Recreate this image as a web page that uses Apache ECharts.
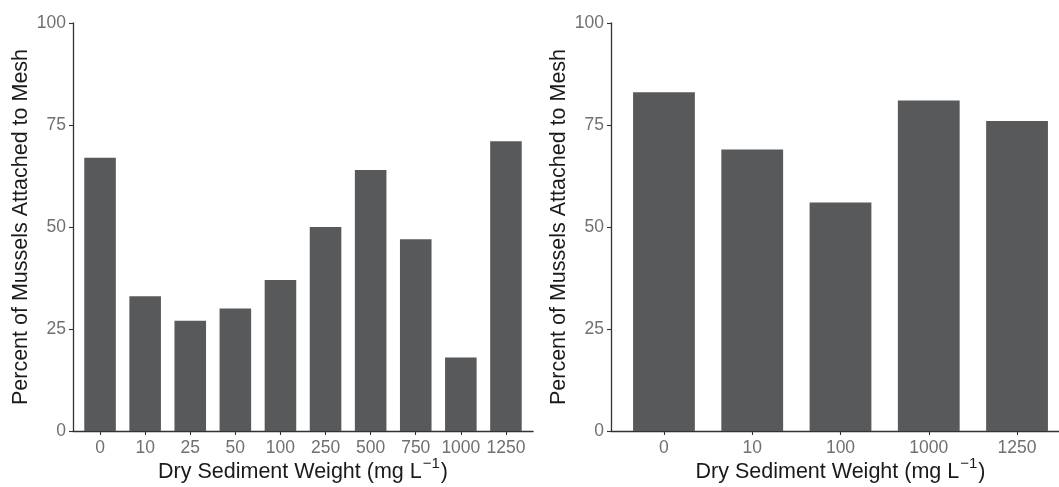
<!DOCTYPE html>
<html>
<head>
<meta charset="utf-8">
<title>Mussel attachment vs sediment weight</title>
<script src="https://cdn.jsdelivr.net/npm/echarts@6/dist/echarts.min.js"></script>
<style>
  html, body { margin: 0; padding: 0; background: #fff; }
  #chart { width: 1059px; height: 487px; }
</style>
</head>
<body>
<div id="chart"></div>
<script>
// Left panel: sediment treatments (mg/L) and percent of mussels attached
const leftCategories = ['0', '10', '25', '50', '100', '250', '500', '750', '1000', '1250'];
const leftValues = [67, 33, 27, 30, 37, 50, 64, 47, 18, 71];

// Right panel
const rightCategories = ['0', '10', '100', '1000', '1250'];
const rightValues = [83, 69, 56, 81, 76];

const yTicks = [0, 25, 50, 75, 100];

const FONT = '"Liberation Sans", Arial, Helvetica, sans-serif';
const BAR = '#58595b';
const AXIS = '#333333';
const TICKTXT = '#707070';
const TITLE = '#1a1a1a';

const idx = arr => arr.map((_, i) => i);

function xAxisFor(gridIndex, cats) {
  return {
    type: 'value',
    gridIndex,
    min: -0.6,
    max: cats.length - 0.4,
    name: '{t|Dry Sediment Weight (mg L}{s|\u22121}{t|)}',
    nameLocation: 'middle',
    nameGap: 27,
    nameMoveOverlap: false,
    nameTextStyle: {
      rich: {
        t: { fontFamily: FONT, fontSize: 21.5, color: TITLE, verticalAlign: 'bottom', lineHeight: 25 },
        s: { fontFamily: FONT, fontSize: 15, color: TITLE, verticalAlign: 'bottom', padding: [0, 1, 12, 1], lineHeight: 15 }
      }
    },
    axisLine: { show: true, onZero: false, lineStyle: { color: AXIS, width: 1.3 } },
    axisTick: { show: true, length: 4, lineStyle: { color: AXIS, width: 1.1 }, customValues: idx(cats) },
    axisLabel: {
      show: true,
      margin: 8,
      fontFamily: FONT,
      fontSize: 17.5,
      color: TICKTXT,
      customValues: idx(cats),
      formatter: v => cats[Math.round(v)]
    },
    splitLine: { show: false }
  };
}

function yAxisFor(gridIndex) {
  return {
    type: 'value',
    gridIndex,
    min: 0,
    max: 100,
    interval: 25,
    name: 'Percent of Mussels Attached to Mesh',
    nameLocation: 'middle',
    nameGap: 41,
    nameMoveOverlap: false,
    nameTextStyle: { fontFamily: FONT, fontSize: 21.5, color: TITLE },
    axisLine: { show: true, onZero: false, lineStyle: { color: AXIS, width: 1.3 } },
    axisTick: { show: true, length: 4, lineStyle: { color: AXIS, width: 1.1 } },
    axisLabel: {
      margin: 7,
      fontFamily: FONT,
      fontSize: 17.5,
      color: TICKTXT,
      customValues: yTicks
    },
    splitLine: { show: false }
  };
}

const chart = echarts.init(document.getElementById('chart'), null, { renderer: 'canvas' });

chart.setOption({
  animation: false,
  backgroundColor: '#ffffff',
  grid: [
    { left: 73, top: 23, width: 460, bottom: 56, outerBoundsMode: 'none', containLabel: false },
    { left: 611, top: 23, right: -11, bottom: 56, outerBoundsMode: 'none', containLabel: false }
  ],
  xAxis: [xAxisFor(0, leftCategories), xAxisFor(1, rightCategories)],
  yAxis: [yAxisFor(0), yAxisFor(1)],
  series: [
    {
      type: 'bar',
      xAxisIndex: 0,
      yAxisIndex: 0,
      barWidth: '70%',
      itemStyle: { color: BAR },
      data: leftValues.map((v, i) => [i, v])
    },
    {
      type: 'bar',
      xAxisIndex: 1,
      yAxisIndex: 1,
      barWidth: '70%',
      itemStyle: { color: BAR },
      data: rightValues.map((v, i) => [i, v])
    }
  ]
});
</script>
</body>
</html>
